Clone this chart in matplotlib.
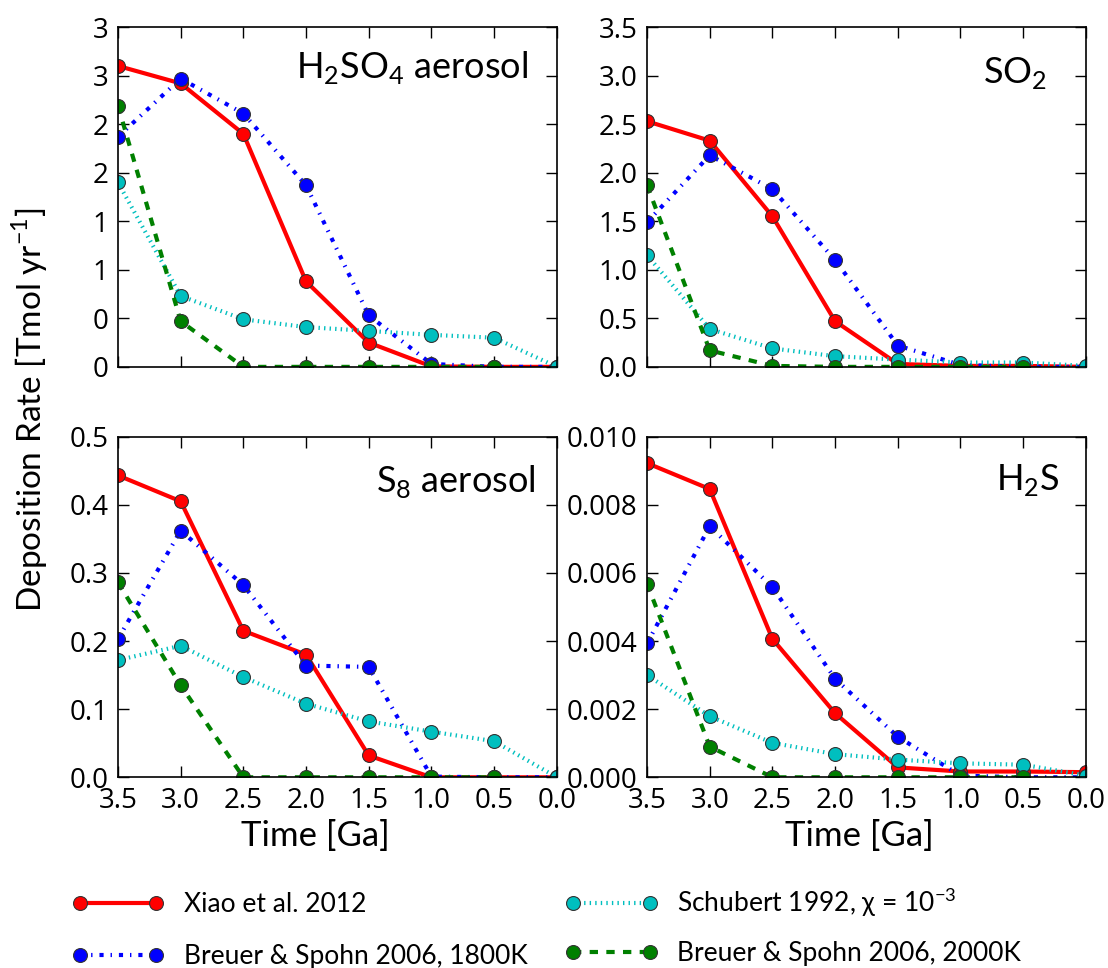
import numpy as np
import matplotlib
matplotlib.use("Agg")
import matplotlib.pyplot as plt

plt.rcParams['font.family'] = ['Lato', 'DejaVu Sans']
plt.rcParams['mathtext.fontset'] = 'custom'
plt.rcParams['mathtext.rm'] = 'Lato'
plt.rcParams['lines.scale_dashes'] = False

# time axis (Ga)
time = [3.5, 3.0, 2.5, 2.0, 1.5, 1.0, 0.5, 0.0]

labels = ['Xiao et al. 2012', 'Breuer & Spohn 2006, 1800K',
          'Schubert 1992, \u03c7 = 10$^{\\mathregular{-3}}$', 'Breuer & Spohn 2006, 2000K']

# H2SO4 aerosol
h2so4_xiao = [3.10, 2.92, 2.40, 0.88, 0.25, 0.005, 0.0, 0.0]
h2so4_b1800 = [2.37, 2.97, 2.61, 1.87, 0.53, 0.03, 0.0, 0.0]
h2so4_schub = [1.90, 0.73, 0.49, 0.41, 0.37, 0.33, 0.30, 0.0]
h2so4_b2000 = [2.69, 0.47, 0.0, 0.0, 0.0, 0.0, 0.0, np.nan]

# SO2
so2_xiao = [2.53, 2.33, 1.55, 0.47, 0.03, 0.01, 0.01, 0.0]
so2_b1800 = [1.49, 2.18, 1.83, 1.10, 0.22, 0.02, 0.0, 0.0]
so2_schub = [1.15, 0.39, 0.19, 0.11, 0.075, 0.045, 0.045, 0.01]
so2_b2000 = [1.87, 0.17, 0.01, 0.0, 0.0, 0.0, 0.0, np.nan]

# S8 aerosol
s8_xiao = [0.443, 0.405, 0.215, 0.180, 0.032, 0.0, 0.0, 0.0]
s8_b1800 = [0.203, 0.362, 0.282, 0.164, 0.162, 0.001, 0.0, 0.0]
s8_schub = [0.172, 0.193, 0.147, 0.108, 0.082, 0.067, 0.053, 0.0]
s8_b2000 = [0.286, 0.135, 0.0, 0.0, 0.0, 0.0, 0.0, np.nan]

# H2S
h2s_xiao = [0.00922, 0.00846, 0.00406, 0.00188, 0.00029, 0.00017, 0.00017, 0.00015]
h2s_b1800 = [0.00393, 0.00737, 0.00558, 0.00289, 0.00119, 0.00005, 0.0, 0.0]
h2s_schub = [0.0030, 0.00179, 0.00101, 0.00068, 0.00052, 0.00041, 0.00037, 0.00005]
h2s_b2000 = [0.00568, 0.0009, 0.0, 0.0, 0.0, 0.0, 0.0, np.nan]

panels = [
    ('H$_\\mathregular{2}$SO$_\\mathregular{4}$ aerosol',
     [h2so4_xiao, h2so4_b1800, h2so4_schub, h2so4_b2000], 3.5, 0.5,
     ['0', '0', '1', '1', '2', '2', '3', '3']),
    ('SO$_\\mathregular{2}$', [so2_xiao, so2_b1800, so2_schub, so2_b2000], 3.5, 0.5, None),
    ('S$_\\mathregular{8}$ aerosol', [s8_xiao, s8_b1800, s8_schub, s8_b2000], 0.5, 0.1, None),
    ('H$_\\mathregular{2}$S', [h2s_xiao, h2s_b1800, h2s_schub, h2s_b2000], 0.010, 0.002, None),
]

colors = ['#ff0000', '#0000ff', '#00bfbf', '#008000']
dashes = [None, (3, 5, 1, 5), (1, 3), (6, 6)]

fig = plt.figure(figsize=(11.08, 9.68), dpi=100)
rects = [
    [0.1065, 0.621, 0.396, 0.351],
    [0.584, 0.621, 0.396, 0.351],
    [0.1065, 0.197, 0.396, 0.352],
    [0.584, 0.197, 0.396, 0.352],
]
# title anchor (right edge, baseline) in axes fraction
title_pos = [(0.934, 0.85), (0.911, 0.835), (0.952, 0.836), (0.941, 0.842)]
xlabel_x = [0.449, 0.449, 0.449, 0.485]

handles = []
for i, (title, series, ymax, ystep, ylabels) in enumerate(panels):
    ax = fig.add_axes(rects[i])
    for j, y in enumerate(series):
        kw = dict(color=colors[j], lw=3, marker='o', markersize=10,
                  markerfacecolor=colors[j], markeredgecolor='#333333',
                  markeredgewidth=0.8, label=labels[j])
        if dashes[j] is not None:
            kw['dashes'] = dashes[j]
            kw['dash_capstyle'] = 'butt'
        ln, = ax.plot(time, y, **kw)
        if i == 0:
            handles.append(ln)
    ax.set_xlim(3.5, 0.0)
    ax.set_ylim(0, ymax)
    ax.set_xticks(time)
    yt = np.arange(0, ymax + ystep / 2, ystep)
    ax.set_yticks(yt)
    if ylabels is not None:
        ax.set_yticklabels(ylabels)
    elif ymax < 0.1:
        ax.set_yticklabels(['%.3f' % v for v in yt])
    else:
        ax.set_yticklabels(['%.1f' % v for v in yt])
    if i < 2:
        ax.set_xticklabels([])
    else:
        ax.set_xticklabels(['%.1f' % t for t in time])
        ax.set_xlabel('Time [Ga]', fontsize=25)
        ax.xaxis.set_label_coords(xlabel_x[i], -0.125)
    ax.tick_params(direction='in', top=True, right=True, length=8, width=1,
                   labelsize=20, pad=7, labelfontfamily='Open Sans')
    for sp in ax.spines.values():
        sp.set_linewidth(1.2)
    ax.text(title_pos[i][0], title_pos[i][1], title, transform=ax.transAxes,
            ha='right', va='baseline', fontsize=26)

fig.text(0.027, 0.5765, 'Deposition Rate [Tmol yr$^{\\mathregular{-1}}$]', rotation=90,
         ha='center', va='center', fontsize=24)

leg_kw = dict(loc='upper left', ncol=1, frameon=False, fontsize=19, numpoints=2,
              handlelength=3.5, handletextpad=0.75,
              borderpad=0, borderaxespad=0)
fig.legend(handles=handles[:2], labels=labels[:2], bbox_to_anchor=(0.065, 0.078),
           labelspacing=1.0, **leg_kw)
fig.legend(handles=handles[2:], labels=labels[2:], bbox_to_anchor=(0.51, 0.085),
           labelspacing=0.82, **leg_kw)

fig.savefig('out.png', dpi=100)
